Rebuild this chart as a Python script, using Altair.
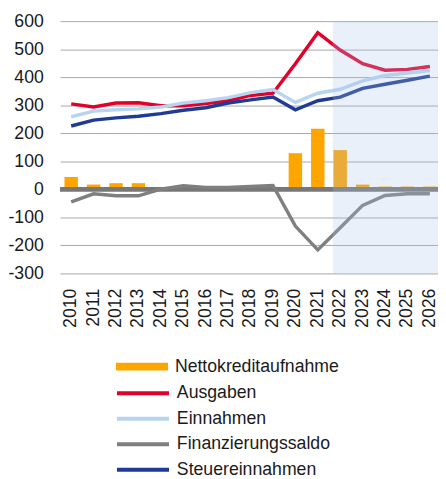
import altair as alt
import pandas as pd

years = ["2010", "2011", "2012", "2013", "2014", "2015", "2016", "2017", "2018",
         "2019", "2020", "2021", "2022", "2023", "2024", "2025", "2026"]
netto = [44, 17, 22, 22, 0, 0, 0, 0, 0, 0, 129, 216, 140, 17, 10, 10, 10]
ausgaben = [305, 294, 308, 309, 298, 298, 306, 316, 335, 343, 448, 559, 497, 448, 425, 428, 438]
einnahmen = [259, 279, 284, 287, 294, 308, 316, 327, 345, 356, 310, 343, 357, 387, 406, 415, 424]
saldo = [-45, -16, -23, -23, 1, 13, 7, 7, 10, 14, -131, -216, -137, -57, -22, -16, -16]
steuer = [226, 247, 255, 261, 270, 282, 291, 308, 319, 329, 284, 316, 329, 360, 375, 389, 404]
forecast_start = ["2022"]

bar_name = "Nettokreditaufnahme"
line_names = ["Ausgaben", "Einnahmen", "Finanzierungssaldo", "Steuereinnahmen"]
line_colors = ["#E2002B", "#B8D4F0", "#7F7F7F", "#1F3B93"]
y_ticks = [-300, -200, -100, 0, 100, 200, 300, 400, 500, 600]

FONT = "Liberation Sans"
FS = 18

bars_df = pd.DataFrame({"year": years, "value": netto, "series": bar_name})
lines_df = pd.concat([
    pd.DataFrame({"year": years, "value": vals, "series": name})
    for name, vals in zip(line_names, [ausgaben, einnahmen, saldo, steuer])
])
shade_df = pd.DataFrame({"start": forecast_start, "top": [max(y_ticks)], "bottom": [min(y_ticks)]})
zero_df = pd.DataFrame({"y": [0]})

xscale = alt.Scale(type="band", domain=years, paddingInner=0.4, paddingOuter=0.13, align=0.76)
yscale = alt.Scale(domain=[-300, 600], nice=False)

x_enc = alt.X("year:O", scale=xscale, sort=years,
              axis=alt.Axis(title=None, labelAngle=-90, labelFontSize=FS, labelFont=FONT,
                            labelColor="#1a1a1a", labelPadding=15, domain=False, ticks=False,
                            grid=False, labelOverlap=False))
y_axis = alt.Axis(title=None, values=y_ticks, tickCount=20, labelFontSize=FS, labelFont=FONT,
                  labelColor="#1a1a1a", labelPadding=17, domain=False, ticks=False,
                  labelOverlap=False, labelExpr="toString(datum.value)",
                  grid=True, gridColor="#A6A6A6", gridWidth=1)

bars = alt.Chart(bars_df).mark_bar().encode(
    x=x_enc,
    y=alt.Y("value:Q", scale=yscale, axis=y_axis),
    color=alt.Color("series:N",
                    scale=alt.Scale(domain=[bar_name], range=["#FFA500"]),
                    legend=alt.Legend(title=None, orient="none", legendX=56, legendY=343,
                                      symbolType="M-1,-0.15H1V0.15H-1Z", symbolSize=2809,
                                      labelFontSize=FS, labelFont=FONT, labelColor="#1a1a1a",
                                      labelOffset=6, labelLimit=300, clipHeight=18, padding=0)),
)

zero = alt.Chart(zero_df).mark_rule(color="#777777", strokeWidth=5).encode(
    y=alt.Y("y:Q", scale=yscale)
)

lines = alt.Chart(lines_df).mark_line(strokeWidth=3.5).encode(
    x=alt.X("year:O", scale=xscale, sort=years),
    y=alt.Y("value:Q", scale=yscale),
    stroke=alt.Stroke("series:N",
                      scale=alt.Scale(domain=line_names, range=line_colors),
                      legend=alt.Legend(title=None, orient="none", legendX=56, legendY=370,
                                        symbolType="stroke", symbolSize=2809, symbolStrokeWidth=4,
                                        labelFontSize=FS, labelFont=FONT, labelColor="#1a1a1a",
                                        labelOffset=6, labelLimit=300, clipHeight=18,
                                        rowPadding=8, padding=0)),
    detail="series:N",
)

shade = alt.Chart(shade_df).mark_rect(fill="#A9C4EA", fillOpacity=0.25, strokeWidth=0,
                                      xOffset=-7.5).encode(
    x=alt.X("start:O", scale=xscale),
    x2=alt.value(385),
    y=alt.Y("top:Q", scale=yscale),
    y2="bottom:Q",
)

chart = alt.layer(bars, zero, lines, shade).properties(
    width=385, height=257,
    padding={"left": 53, "top": 9, "right": 0, "bottom": 205},
    autosize=alt.AutoSizeParams(type="none"),
    background="white",
).configure_view(stroke=None)

chart.save("out.html", embed_options={"renderer": "svg", "actions": False})
